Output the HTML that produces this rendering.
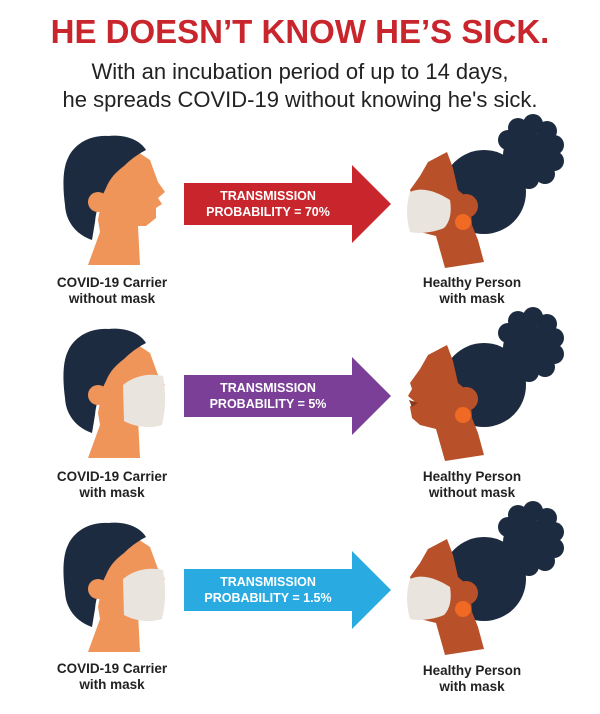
<!DOCTYPE html>
<html><head><meta charset="utf-8"><style>
html,body{margin:0;padding:0;background:#fff;}
body{width:600px;height:709px;overflow:hidden;font-family:"Liberation Sans",Arial,sans-serif;}
</style></head><body>
<svg width="600" height="709" viewBox="0 0 600 709" xmlns="http://www.w3.org/2000/svg" font-family="Liberation Sans, Arial, sans-serif">
<defs>
<g id="man">
  <path d="M88,265 L100,232 L98,220 L105,182 L135,150 L150,160 L158,182 L165,192 L158,198 L162,204 L156,208 L156,218 L146,226 L138,226 L140,265 Z" fill="#f0955a"/>
  <path d="M92,240 C80,236 66,225 65,205 C63,190 62,170 68,158 C74,145 88,135 108,136 C125,134 140,140 146,150 C138,154 130,160 124,166 C116,172 110,178 106,188 C100,200 96,210 95,222 Z" fill="#1c2b40"/>
  <circle cx="98" cy="202" r="10" fill="#f0955a"/>
</g>
<g id="manmask">
  <path d="M123,192 C135,182 150,180 163,183 C166,200 166,215 162,232 C150,236 135,234 124,228 Z" fill="#e9e4de"/>
</g>
<g id="woman">
  <g fill="#1c2b40">
    <circle cx="527" cy="155" r="24"/>
    <circle cx="508" cy="140" r="10"/><circle cx="518" cy="128" r="10"/><circle cx="533" cy="124" r="10"/>
    <circle cx="547" cy="131" r="10"/><circle cx="554" cy="145" r="10"/><circle cx="554" cy="161" r="10"/>
    <circle cx="545" cy="174" r="10"/><circle cx="529" cy="179" r="10"/>
    <circle cx="484" cy="192" r="42"/>
  </g>
  <path d="M445,268 L436,236 L420,232 L412,225 L410,214 L414,208 L408,203 L412,196 L410,190 L420,176 L428,162 L447,152 L453,168 L458,190 L470,200 L472,225 L478,240 L484,262 Z" fill="#b8512a"/>
  <circle cx="466" cy="206" r="12" fill="#b8512a"/>
  <circle cx="463" cy="222" r="8" fill="#f06a24"/>
</g>
<g id="wmask">
  <path d="M410,192 C422,186 438,192 450,200 C452,212 450,222 444,228 C432,233 418,234 410,232 C406,218 406,205 410,192 Z" fill="#e9e4de"/>
</g>
</defs>

<text x="300" y="43" text-anchor="middle" font-size="33" font-weight="bold" fill="#c8262c">HE DOESN’T KNOW HE’S SICK.</text>
<text x="300" y="79" text-anchor="middle" font-size="22" fill="#222">With an incubation period of up to 14 days,</text>
<text x="300" y="107" text-anchor="middle" font-size="22" fill="#222">he spreads COVID-19 without knowing he's sick.</text>

<!-- row 1 -->
<use href="#man"/>
<use href="#woman"/><use href="#wmask"/>
<path d="M184,183 L352,183 L352,165 L391,204 L352,243 L352,225 L184,225 Z" fill="#c8262c"/>
<text x="268" y="200" text-anchor="middle" font-size="12.5" font-weight="bold" fill="#fff">TRANSMISSION</text>
<text x="268" y="216" text-anchor="middle" font-size="12.5" font-weight="bold" fill="#fff">PROBABILITY = 70%</text>
<text x="112" y="287" text-anchor="middle" font-size="13.5" font-weight="bold" fill="#222">COVID-19 Carrier</text>
<text x="112" y="303" text-anchor="middle" font-size="13.5" font-weight="bold" fill="#222">without mask</text>
<text x="472" y="287" text-anchor="middle" font-size="13.5" font-weight="bold" fill="#222">Healthy Person</text>
<text x="472" y="303" text-anchor="middle" font-size="13.5" font-weight="bold" fill="#222">with mask</text>

<!-- row 2 -->
<g transform="translate(0,193)"><use href="#man"/><use href="#manmask"/><use href="#woman"/>
<path d="M409,207 L418,210 L412,214 Z" fill="#8a3a1c"/></g>
<path d="M184,375 L352,375 L352,357 L391,396 L352,435 L352,417 L184,417 Z" fill="#7b3f98"/>
<text x="268" y="392" text-anchor="middle" font-size="12.5" font-weight="bold" fill="#fff">TRANSMISSION</text>
<text x="268" y="408" text-anchor="middle" font-size="12.5" font-weight="bold" fill="#fff">PROBABILITY = 5%</text>
<text x="112" y="481" text-anchor="middle" font-size="13.5" font-weight="bold" fill="#222">COVID-19  Carrier</text>
<text x="112" y="497" text-anchor="middle" font-size="13.5" font-weight="bold" fill="#222">with mask</text>
<text x="472" y="481" text-anchor="middle" font-size="13.5" font-weight="bold" fill="#222">Healthy Person</text>
<text x="472" y="497" text-anchor="middle" font-size="13.5" font-weight="bold" fill="#222">without mask</text>

<!-- row 3 -->
<g transform="translate(0,387)"><use href="#man"/><use href="#manmask"/><use href="#woman"/><use href="#wmask"/></g>
<path d="M184,569 L352,569 L352,551 L391,590 L352,629 L352,611 L184,611 Z" fill="#29abe2"/>
<text x="268" y="586" text-anchor="middle" font-size="12.5" font-weight="bold" fill="#fff">TRANSMISSION</text>
<text x="268" y="602" text-anchor="middle" font-size="12.5" font-weight="bold" fill="#fff">PROBABILITY = 1.5%</text>
<text x="112" y="673" text-anchor="middle" font-size="13.5" font-weight="bold" fill="#222">COVID-19  Carrier</text>
<text x="112" y="689" text-anchor="middle" font-size="13.5" font-weight="bold" fill="#222">with mask</text>
<text x="472" y="675" text-anchor="middle" font-size="13.5" font-weight="bold" fill="#222">Healthy Person</text>
<text x="472" y="691" text-anchor="middle" font-size="13.5" font-weight="bold" fill="#222">with mask</text>
</svg>
</body></html>
